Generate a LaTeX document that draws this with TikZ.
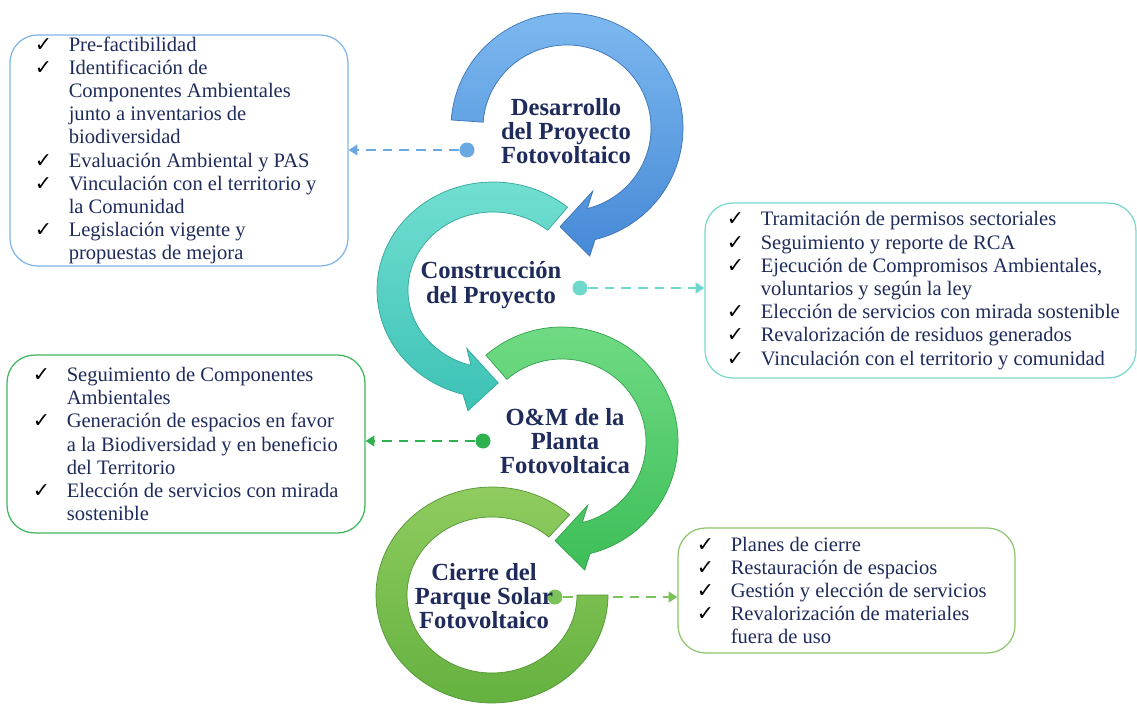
\documentclass[tikz,border=0pt]{standalone}
\usepackage{fontspec}
\setmainfont{Liberation Serif}
\newfontfamily\symfont{DejaVu Sans}
\usepackage{xcolor}
\usepackage{tikz}
\usetikzlibrary{positioning, arrows.meta}
\setlength{\parindent}{0pt}
\definecolor{txtnavy}{HTML}{1F2B5B}
\definecolor{devtop}{HTML}{7DB9F0}
\definecolor{devbot}{HTML}{4689D6}
\definecolor{buildtop}{HTML}{74E0D3}
\definecolor{buildbot}{HTML}{3CC2B5}
\definecolor{optop}{HTML}{72DC86}
\definecolor{opbot}{HTML}{3DBE58}
\definecolor{closetop}{HTML}{92CD62}
\definecolor{closebot}{HTML}{62B03E}
\definecolor{devlink}{HTML}{6AA8E2}
\definecolor{buildlink}{HTML}{6ED8CD}
\definecolor{oplink}{HTML}{2EB24F}
\definecolor{closelink}{HTML}{7BC25A}
\definecolor{devedge}{HTML}{7FB4E8}
\definecolor{buildedge}{HTML}{78D8CC}
\definecolor{opedge}{HTML}{3DB85A}
\definecolor{closeedge}{HTML}{8DC66C}
\newcommand{\ck}{\makebox[0.68cm][l]{\color{black}\symfont\bfseries ✓}}
\newcommand{\nock}{\hspace*{0.68cm}}

\begin{document}
\begin{tikzpicture}[
    x=0.02cm, y=-0.02cm,
    stage/.style={font=\fontsize{14}{13.8}\selectfont\bfseries, text=txtnavy,
        align=center, inner sep=0pt},
    notebox/.style={draw, rounded corners=0.55cm, line width=0.7pt, fill=white, inner sep=0pt},
    listtext/.style={font=\fontsize{11.7}{13.2}\selectfont, text=txtnavy, align=left,
        inner sep=0pt, anchor=west},
    hub/.style={circle, inner sep=0pt, minimum size=0.3cm},
    link/.style={line width=1.4pt, dash pattern=on 5.5pt off 4pt,
        -{Triangle[length=5pt, width=6pt]}},
    ring/.style={line width=0.4pt},
]
\useasboundingbox (0,0) rectangle (1137,706);
\fill[white] (0,0) rectangle (1137,706);

% ===== Note boxes =====
\node[notebox, draw=devedge, minimum width=6.76cm, minimum height=4.62cm] (devbox) at (179,150.5) {};
\node[listtext] (devlist) at ([xshift=0.5cm]devbox.west)
  {\ck Pre-factibilidad\\
   \ck Identificación de\\
   \nock Componentes Ambientales\\
   \nock junto a inventarios de\\
   \nock biodiversidad\\
   \ck Evaluación Ambiental y PAS\\
   \ck Vinculación con el territorio y\\
   \nock la Comunidad\\
   \ck Legislación vigente y\\
   \nock propuestas de mejora};

\node[notebox, draw=buildedge, minimum width=8.62cm, minimum height=3.5cm] (buildbox) at (920.5,290.5) {};
\node[listtext] (buildlist) at ([xshift=0.44cm]buildbox.west)
  {\ck Tramitación de permisos sectoriales\\
   \ck Seguimiento y reporte de RCA\\
   \ck Ejecución de Compromisos Ambientales,\\
   \nock voluntarios y según la ley\\
   \ck Elección de servicios con mirada sostenible\\
   \ck Revalorización de residuos generados\\
   \ck Vinculación con el territorio y comunidad};

\node[notebox, draw=opedge, minimum width=7.16cm, minimum height=3.56cm] (opbox) at (186,444) {};
\node[listtext] (oplist) at ([xshift=0.52cm]opbox.west)
  {\ck Seguimiento de Componentes\\
   \nock Ambientales\\
   \ck Generación de espacios en favor\\
   \nock a la Biodiversidad y en beneficio\\
   \nock del Territorio\\
   \ck Elección de servicios con mirada\\
   \nock sostenible};

\node[notebox, draw=closeedge, minimum width=6.74cm, minimum height=2.5cm] (closebox) at (846.5,590.5) {};
\node[listtext] (closelist) at ([xshift=0.38cm]closebox.west)
  {\ck Planes de cierre\\
   \ck Restauración de espacios\\
   \ck Gestión y elección de servicios\\
   \ck Revalorización de materiales\\
   \nock fuera de uso};

% ===== Links from each stage =====
\node[hub, fill=devlink] (devhub) at (467,150) {};
\node[hub, fill=buildlink] (buildhub) at (580,288) {};
\node[hub, fill=oplink] (ophub) at (483,441) {};
\node[hub, fill=closelink] (closehub) at (555,597) {};

\draw[link, devlink] (devhub) -- (devhub -| devbox.east);
\draw[link, buildlink] (buildhub) -- (buildhub -| buildbox.west);
\draw[link, oplink] (ophub) -- (ophub -| opbox.east);
\draw[link, closelink] (closehub) -- (closehub -| closebox.west);

% ===== Rings =====
\coordinate (closec) at (492,595);
\path[ring, top color=closetop, bottom color=closebot, draw=closebot!85!black]
  ([shift={(closec)}]-48:116 and 108) arc[start angle=-48, end angle=-360, x radius=116, y radius=108]
  -- ([shift={(closec)}]0:85 and 78) arc[start angle=-360, end angle=-48, x radius=85, y radius=78]
  -- cycle;

\coordinate (opc) at (562,442);
\path[ring, top color=optop, bottom color=opbot, draw=opbot!85!black]
  ([shift={(opc)}]229:116 and 115) arc[start angle=229, end angle=436, x radius=116, y radius=115]
  -- ([shift={(opc)}]440:131 and 130) -- ([shift={(opc)}]454:100 and 99)
  -- ([shift={(opc)}]428:69 and 68) -- ([shift={(opc)}]436:84 and 83)
  arc[start angle=436, end angle=229, x radius=84, y radius=83] -- cycle;

\coordinate (buildc) at (493,290);
\path[ring, top color=buildtop, bottom color=buildbot, draw=buildbot!85!black]
  ([shift={(buildc)}]-50:116 and 108) arc[start angle=-50, end angle=-255, x radius=116, y radius=108]
  -- ([shift={(buildc)}]-259:131 and 123) -- ([shift={(buildc)}]-273:100.5 and 93)
  -- ([shift={(buildc)}]-248:70 and 63) -- ([shift={(buildc)}]-255:85 and 78)
  arc[start angle=-255, end angle=-50, x radius=85, y radius=78] -- cycle;

\coordinate (devc) at (567,128);
\path[ring, top color=devtop, bottom color=devbot, draw=devbot!85!black]
  ([shift={(devc)}]184:116 and 115) arc[start angle=184, end angle=436, x radius=116, y radius=115]
  -- ([shift={(devc)}]440:131 and 130) -- ([shift={(devc)}]454:100 and 99)
  -- ([shift={(devc)}]428:69 and 68) -- ([shift={(devc)}]436:84 and 83)
  arc[start angle=436, end angle=184, x radius=84, y radius=83] -- cycle;

% ===== Stage titles =====
\node[stage] (devtitle) at (566,131) {Desarrollo\\del Proyecto\\Fotovoltaico};
\node[stage] (buildtitle) at (491,285) {Construcción\\del Proyecto};
\node[stage] (optitle) at (565,441) {O\&M de la\\Planta\\Fotovoltaica};
\node[stage] (closetitle) at (484,596) {Cierre del\\Parque Solar\\Fotovoltaico};

\end{tikzpicture}
\end{document}
